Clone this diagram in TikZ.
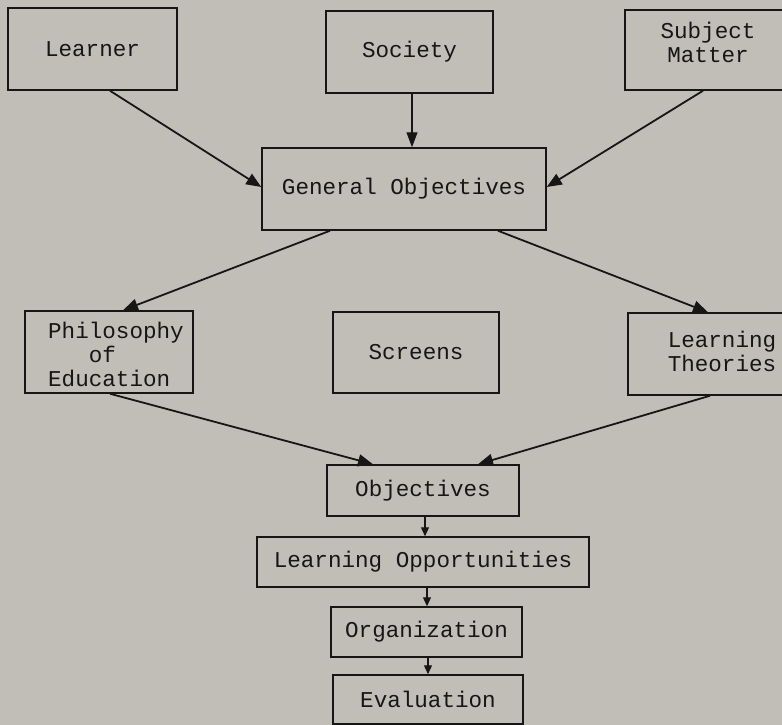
\documentclass[tikz,border=0pt]{standalone}
\usepackage{fontspec}
\setmonofont{Liberation Mono}
\usetikzlibrary{arrows.meta}
\definecolor{paper}{RGB}{192,190,183}
\definecolor{ink}{RGB}{22,22,22}
\tikzset{
  box/.style={draw=ink, line width=1.5pt, rectangle, inner sep=0pt, align=center,
    font=\ttfamily\fontsize{22.6}{23}\selectfont, text=ink},
  txt/.style={inner sep=0pt, align=center, font=\ttfamily\fontsize{22.6}{24}\selectfont, text=ink},
  flow/.style={draw=ink, line width=1.8pt, -{Triangle[length=15pt,width=12pt]}},
  thinflow/.style={draw=ink, line width=1.2pt, -{Triangle[length=15pt,width=11pt]}},
  stepflow/.style={draw=ink, line width=1.2pt, -{Triangle[length=9pt,width=8pt]}},
}
\begin{document}
\begin{tikzpicture}[x=1pt,y=-1pt]
  \fill[paper] (0,0) rectangle (782,725);
  \useasboundingbox (0,0) rectangle (782,725);

  % sources
  \node[box, minimum width=169pt, minimum height=82pt] (learner) at (92.5,49) {Learner};
  \node[box, minimum width=167pt, minimum height=82pt] (society) at (409.5,52) {Society};
  \node[box, minimum width=166pt, minimum height=80pt] (subject) at (708,50) {};
  \node[txt] (subjecttext) at (708,42) {Subject\\Matter};

  \node[box, minimum width=284pt, minimum height=82pt] (genobj) at (404,189) {General Objectives};

  % screens
  \node[box, minimum width=168pt, minimum height=82pt] (philo) at (109,352) {};
  \node[txt, align=left] (philotext) at (116,354) {Philosophy\\\hspace*{40.7pt}of\\Education};
  \node[box, minimum width=166pt, minimum height=81pt] (screens) at (416,352.5) {Screens};
  \node[box, minimum width=188pt, minimum height=82pt] (theories) at (722,354) {};
  \node[txt] (theoriestext) at (722,351) {Learning\\Theories};

  % sequence
  \node[box, minimum width=192pt, minimum height=51pt] (obj) at (423,490.5) {Objectives};
  \node[box, minimum width=332pt, minimum height=50pt] (opp) at (423,562) {Learning Opportunities};
  \node[box, minimum width=191pt, minimum height=50pt] (org) at (426.5,632) {Organization};
  \node[box, minimum width=190pt, minimum height=49pt] (eval) at (428,699.5) {Evaluation};

  % connectors
  \draw[flow] ([xshift=17.5pt]learner.south) -- ([yshift=2pt]genobj.west);
  \draw[thinflow] ([xshift=2.5pt]society.south) -- ([xshift=2.5pt]society.south |- genobj.north);
  \draw[flow] ([xshift=-5pt]subject.south) -- ([yshift=2pt]genobj.east);
  \draw[flow] ([xshift=-74pt]genobj.south) -- ([xshift=14pt]philo.north);
  \draw[flow] ([xshift=94pt]genobj.south) -- ([xshift=-14pt]theories.north);
  \draw[flow] ([xshift=1pt]philo.south) -- ([xshift=-50pt]obj.north);
  \draw[flow] ([xshift=-12pt]theories.south) -- ([xshift=55pt]obj.north);
  \draw[stepflow] ([xshift=2pt]obj.south) -- ([xshift=2pt]obj.south |- opp.north);
  \draw[stepflow] ([xshift=4pt]opp.south) -- ([xshift=4pt]opp.south |- org.north);
  \draw[stepflow] ([xshift=1.5pt]org.south) -- ([xshift=1.5pt]org.south |- eval.north);
\end{tikzpicture}
\end{document}
